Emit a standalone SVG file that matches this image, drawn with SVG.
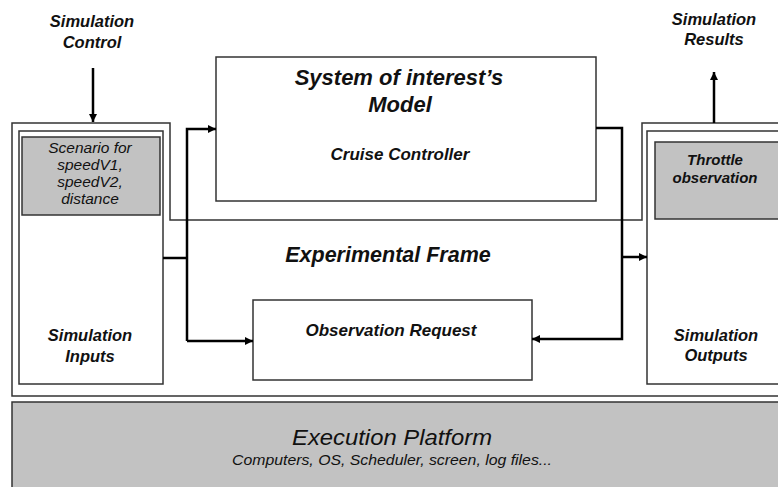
<svg xmlns="http://www.w3.org/2000/svg" width="778" height="487" viewBox="0 0 778 487">
<defs>
<style>
.box{fill:#fff;stroke:#333;stroke-width:1.5}
.gray{fill:#c2c2c2;stroke:#333;stroke-width:1.5}
.frame{fill:none;stroke:#333;stroke-width:1.5}
.conn{fill:none;stroke:#000;stroke-width:2.5}
text{font-family:"Liberation Sans",Arial,sans-serif;font-style:italic;fill:#111;text-anchor:middle}
.b{font-weight:bold}
</style>
<marker id="arr" viewBox="0 0 10 10" refX="10" refY="5" markerWidth="3.2" markerHeight="3.2" orient="auto" markerUnits="strokeWidth">
<path d="M0,0 L10,5 L0,10 z" fill="#000"/>
</marker>
</defs>
<rect width="778" height="487" fill="#fff"/>

<g id="execution-platform">
<rect class="gray" x="12" y="402" width="775" height="95" fill="#c4c4c4"/>
<text x="392" y="445" font-size="22" textLength="200" lengthAdjust="spacingAndGlyphs">Execution Platform</text>
<text x="392" y="465" font-size="15" textLength="320" lengthAdjust="spacingAndGlyphs">Computers, OS, Scheduler, screen, log files...</text>
</g>

<g id="experimental-frame">
<path class="frame" d="M785,123 H642 V220 H170 V123 H12 V396 H785"/>
<text class="b" x="388" y="262" font-size="21.5">Experimental Frame</text>
</g>

<g id="simulation-inputs">
<rect class="box" x="19" y="131" width="144" height="253"/>
<rect class="gray" x="22" y="137" width="138" height="78"/>
<text x="90" y="153" font-size="15.5">Scenario for</text>
<text x="90" y="170" font-size="15.5">speedV1,</text>
<text x="90" y="187" font-size="15.5">speedV2,</text>
<text x="90" y="204" font-size="15.5">distance</text>
<text class="b" x="90" y="341" font-size="16.5">Simulation</text>
<text class="b" x="90" y="362" font-size="16.5">Inputs</text>
</g>

<g id="simulation-outputs">
<rect class="box" x="647" y="131" width="140" height="253"/>
<rect class="gray" x="655" y="142" width="130" height="77"/>
<text class="b" x="715" y="165" font-size="15">Throttle</text>
<text class="b" x="715" y="183" font-size="15">observation</text>
<text class="b" x="716" y="341" font-size="16.5">Simulation</text>
<text class="b" x="716" y="361" font-size="16.5">Outputs</text>
</g>

<g id="model">
<rect class="box" x="216" y="57" width="380" height="144"/>
<text class="b" x="399" y="85" font-size="22">System of interest’s</text>
<text class="b" x="400" y="112" font-size="22">Model</text>
<text class="b" x="400" y="160" font-size="17">Cruise Controller</text>
</g>

<g id="observation-request">
<rect class="box" x="253" y="300" width="279" height="80"/>
<text class="b" x="391" y="336" font-size="17">Observation Request</text>
</g>

<g id="simulation-control">
<text class="b" x="92" y="27" font-size="16.5">Simulation</text>
<text class="b" x="92" y="48" font-size="16.5">Control</text>
</g>

<g id="simulation-results">
<text class="b" x="714" y="25" font-size="16.5">Simulation</text>
<text class="b" x="714" y="45" font-size="16.5">Results</text>
</g>

<g id="connectors">
<path class="conn" d="M93,68 V122" marker-end="url(#arr)"/>
<path class="conn" d="M714,123 V72" marker-end="url(#arr)"/>
<path class="conn" d="M163,258 H187"/>
<path class="conn" d="M187,341 V129 H216" marker-end="url(#arr)"/>
<path class="conn" d="M187,341 H253" marker-end="url(#arr)"/>
<path class="conn" d="M596,128 H622 V339 H532" marker-end="url(#arr)"/>
<path class="conn" d="M622,257 H647" marker-end="url(#arr)"/>
</g>
</svg>
